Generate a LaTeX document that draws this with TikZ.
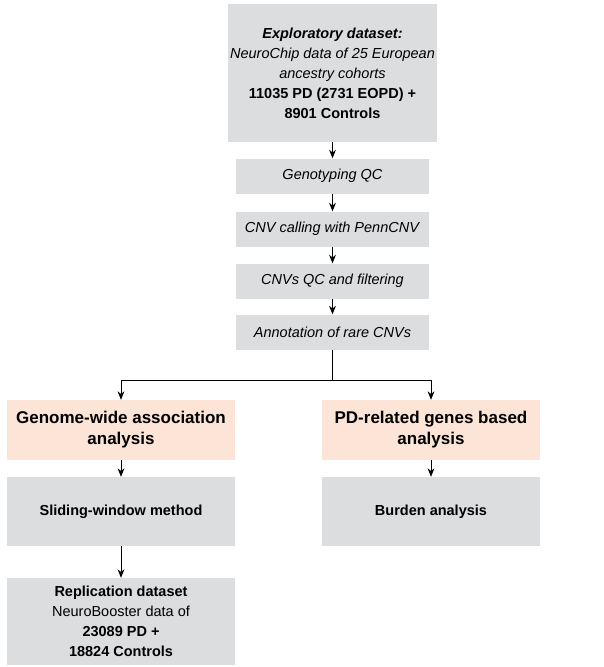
\documentclass[tikz,border=0pt]{standalone}
\usepackage{fontspec}
\setmainfont{Liberation Sans}
\usetikzlibrary{arrows.meta,positioning}
\definecolor{boxgray}{RGB}{219,221,223}
\definecolor{boxorange}{RGB}{252,228,214}

\begin{document}
\begin{tikzpicture}[x=1pt,y=-1pt,
    box/.style={fill=boxgray, minimum width=193pt, align=center, font=\fontsize{14.5}{20}\selectfont, inner sep=2pt},
    wide/.style={box, minimum width=228pt, minimum height=69pt},
    head/.style={wide, fill=boxorange, minimum height=60pt, font=\fontsize{17}{21}\selectfont\bfseries},
    arrow/.style={-{Stealth[length=3mm,width=2.4mm]}, thick}
]
\useasboundingbox (0,0) rectangle (603,667);
% Main pipeline
\node[box, minimum height=138pt] (data) at (332.5,73) {\textbf{\textit{Exploratory dataset:}}\\\textit{NeuroChip data of 25 European}\\\textit{ancestry cohorts}\\\textbf{11035 PD (2731 EOPD) +}\\\textbf{8901 Controls}};
\node[box, minimum height=35pt] (qc) at (332.5,176) {\textit{Genotyping QC}};
\node[box, minimum height=35pt] (call) at (332.5,229) {\textit{CNV calling with PennCNV}};
\node[box, minimum height=35pt] (filt) at (332.5,281) {\textit{CNVs QC and filtering}};
\node[box, minimum height=35pt] (anno) at (332.5,332) {\textit{Annotation of rare CNVs}};

% Two branches
\node[head] (gwas) at (121,430) {Genome-wide association\\analysis};
\node[head, minimum width=218pt] (genes) at (431,430) {PD-related genes based\\analysis};
\node[wide, font=\fontsize{14.5}{20}\selectfont\bfseries] (slide) at (121,511.5) {Sliding-window method};
\node[wide, minimum width=218pt, font=\fontsize{14.5}{20}\selectfont\bfseries] (burden) at (431,511.5) {Burden analysis};
\node[wide, minimum height=87pt] (rep) at (121,621.5) {\textbf{Replication dataset}\\NeuroBooster data of\\\textbf{23089 PD +}\\\textbf{18824 Controls}};

% Arrows
\draw[arrow] (data) -- (qc);
\draw[arrow] (qc) -- (call);
\draw[arrow] (call) -- (filt);
\draw[arrow] (filt) -- (anno);
\coordinate (split) at (332.5,380);
\draw[thick] (anno) -- (split);
\draw[arrow] (split) -| (gwas.north);
\draw[arrow] (split) -| (genes.north);
\draw[arrow] (gwas) -- (slide);
\draw[arrow] (genes) -- (burden);
\draw[arrow] (slide) -- (rep);
\end{tikzpicture}
\end{document}
